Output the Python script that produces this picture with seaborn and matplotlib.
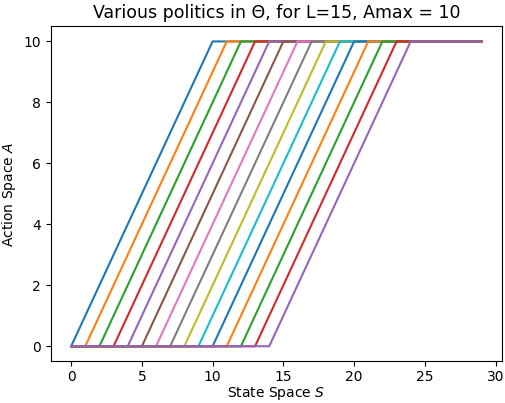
import numpy as np
import pandas as pd
import seaborn as sns
import matplotlib.pyplot as plt

# policy breakpoints: flat at 0 until start, ramp to Amax, flat until last state
starts = [0, 1, 2, 3, 4, 5, 6, 7, 8, 9, 10, 11, 12, 13, 14]
ramp_ends = [10, 11, 12, 13, 14, 15, 16, 17, 18, 19, 20, 21, 22, 23, 24]
first_state = 0
last_state = 29
a_min = 0
a_max = 10

rows = []
for i, (s, e) in enumerate(zip(starts, ramp_ends)):
    xs = [first_state, s, e, last_state]
    ys = [a_min, a_min, a_max, a_max]
    for x, y in zip(xs, ys):
        rows.append({"policy": i, "S": x, "A": y})
df = pd.DataFrame(rows)

palette = [sns.color_palette("tab10")[i % 10] for i in range(len(starts))]

fig, ax = plt.subplots(figsize=(5.06, 4.03), dpi=100)
sns.lineplot(data=df, x="S", y="A", hue="policy", palette=palette,
             legend=False, sort=False, estimator=None, ax=ax, linewidth=1.5)
ax.set_title("Various politics in Θ, for L=15, Amax = 10", fontsize=12.5)
ax.set_xlabel("State Space $S$", labelpad=1)
ax.set_ylabel("Action Space $A$")
ax.set_xticks([0, 5, 10, 15, 20, 25, 30])
ax.set_yticks([0, 2, 4, 6, 8, 10])
ax.tick_params(axis="x", pad=2.5)
fig.subplots_adjust(left=0.1, right=0.992, top=0.935, bottom=0.103)
plt.savefig("out.png", dpi=100)
